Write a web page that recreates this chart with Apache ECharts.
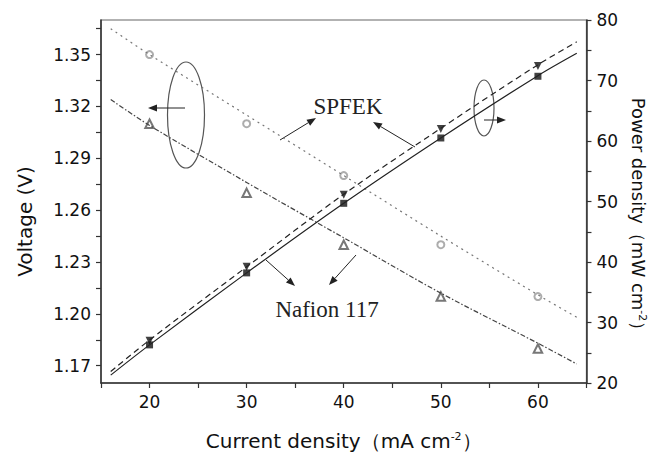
<!DOCTYPE html>
<html>
<head>
<meta charset="utf-8">
<script src="https://cdn.jsdelivr.net/npm/echarts@6/dist/echarts.min.js"></script>
<style>
  html, body { margin: 0; background: #fff; }
  #chart { width: 656px; height: 456px; }
</style>
</head>
<body>
<div id="chart"></div>
<script>
// current density (mA cm-2)
const current = [20, 30, 40, 50, 60]

// measured points
const spfekVoltage = [1.35, 1.31, 1.28, 1.24, 1.21]
const nafionVoltage = [1.31, 1.27, 1.24, 1.21, 1.18]
const spfekPower = [27.0, 39.2, 51.1, 62.0, 72.4]
const nafionPower = [26.3, 38.2, 49.7, 60.5, 70.7]

// fitted curves
const fitX = [16, 20, 30, 40, 50, 60, 64]
const spfekVoltageFit = [1.365, 1.350, 1.315, 1.280, 1.245, 1.211, 1.198]
const nafionVoltageFit = [1.324, 1.309, 1.276, 1.244, 1.212, 1.183, 1.171]
const spfekPowerFit = [21.9, 27.1, 39.2, 51.2, 62.1, 72.6, 76.4]
const nafionPowerFit = [21.3, 26.3, 38.2, 49.7, 60.5, 70.8, 74.5]

// left axis ticks
const voltageTicks = [1.17, 1.185, 1.20, 1.215, 1.23, 1.245, 1.26, 1.275, 1.29, 1.305, 1.32, 1.335, 1.35, 1.365]
const voltageLabels = [1.17, 1.20, 1.23, 1.26, 1.29, 1.32, 1.35]

const pairs = (xs, ys) => xs.map((x, i) => [x, ys[i]])

const sans = '"DejaVu Sans", sans-serif'
const serif = '"Liberation Serif", "Times New Roman", serif'
const ink = '#222'

function arrow(x1, y1, x2, y2) {
  const a = Math.atan2(y2 - y1, x2 - x1)
  const len = 9, w = 3.5
  const bx = x2 - len * Math.cos(a), by = y2 - len * Math.sin(a)
  return [
    { type: 'line', shape: { x1, y1, x2: bx, y2: by }, style: { stroke: ink, lineWidth: 1 } },
    {
      type: 'polygon',
      shape: { points: [[x2, y2], [bx + w * Math.sin(a), by - w * Math.cos(a)], [bx - w * Math.sin(a), by + w * Math.cos(a)]] },
      style: { fill: ink }
    }
  ]
}

function ellipse(cx, cy, rx, ry) {
  return { type: 'ellipse', shape: { cx, cy, rx, ry }, style: { fill: 'none', stroke: '#555', lineWidth: 1.2 } }
}

const chart = echarts.init(document.getElementById('chart'), null, { renderer: 'svg' })

const axisLine = { show: true, lineStyle: { color: '#333', width: 1.5 } }
const axisTick = { show: true, inside: false, length: 5, lineStyle: { color: '#333', width: 1.2 } }
const tickFont = { color: '#111', fontSize: 17, fontFamily: sans }
const sup = { fontSize: 11, fontFamily: sans, color: '#111', padding: [0, 0, 9, 0] }

const option = {
  animation: false,
  backgroundColor: '#fff',
  grid: { left: 101, right: 69, top: 20, bottom: 73, show: true, borderColor: '#666', borderWidth: 1.2 },
  xAxis: {
    type: 'value',
    min: 15, max: 65, interval: 5,
    splitLine: { show: false },
    axisLine, axisTick,
    axisLabel: Object.assign({ margin: 10, formatter: v => (v % 10 === 0 ? v : '') }, tickFont),
    name: 'Current density（mA cm{sup|-2}）',
    nameLocation: 'middle',
    nameGap: 48,
    nameTextStyle: { fontSize: 20, fontFamily: sans, color: '#111', rich: { sup } }
  },
  yAxis: [
    {
      type: 'value',
      min: 1.16, max: 1.37,
      splitLine: { show: false },
      axisLine,
      axisTick: Object.assign({ customValues: voltageTicks }, axisTick),
      axisLabel: Object.assign({ margin: 10, customValues: voltageLabels, formatter: v => v.toFixed(2) }, tickFont),
      name: 'Voltage (V)',
      nameLocation: 'middle',
      nameGap: 66,
      nameRotate: 90,
      nameTextStyle: { fontSize: 20, fontFamily: sans, color: '#111', padding: [0, 40, 0, 0] }
    },
    {
      type: 'value',
      position: 'right',
      min: 20, max: 80, interval: 5,
      splitLine: { show: false },
      axisLine, axisTick,
      axisLabel: Object.assign({ margin: 10, formatter: v => (v % 10 === 0 ? v : '') }, tickFont),
      name: 'Power density（mW cm{sup|-2}）',
      nameLocation: 'middle',
      nameGap: 38,
      nameRotate: -90,
      nameTextStyle: { fontSize: 18, fontFamily: sans, color: '#111', padding: [0, 0, 0, 34], rich: { sup } }
    }
  ],
  series: [
    {
      name: 'SPFEK voltage fit', type: 'line', yAxisIndex: 0, smooth: 0.3, showSymbol: false,
      data: pairs(fitX, spfekVoltageFit),
      lineStyle: { color: '#777', width: 1.2, type: [2, 4] }
    },
    {
      name: 'Nafion 117 voltage fit', type: 'line', yAxisIndex: 0, smooth: 0.3, showSymbol: false,
      data: pairs(fitX, nafionVoltageFit),
      lineStyle: { color: '#444', width: 1.2, type: [5, 2, 1.5, 2] }
    },
    {
      name: 'SPFEK power fit', type: 'line', yAxisIndex: 1, smooth: 0.3, showSymbol: false,
      data: pairs(fitX, spfekPowerFit),
      lineStyle: { color: ink, width: 1.2, type: [6, 4] }
    },
    {
      name: 'Nafion 117 power fit', type: 'line', yAxisIndex: 1, smooth: 0.3, showSymbol: false,
      data: pairs(fitX, nafionPowerFit),
      lineStyle: { color: ink, width: 1.2 }
    },
    {
      name: 'SPFEK voltage', type: 'scatter', yAxisIndex: 0,
      symbol: 'emptyCircle', symbolSize: 7,
      itemStyle: { color: '#999', borderColor: '#999', borderWidth: 1.2 },
      data: pairs(current, spfekVoltage)
    },
    {
      name: 'Nafion 117 voltage', type: 'scatter', yAxisIndex: 0,
      symbol: 'emptyTriangle', symbolSize: 8.5,
      itemStyle: { color: '#555', borderColor: '#555', borderWidth: 1.1 },
      data: pairs(current, nafionVoltage)
    },
    {
      name: 'SPFEK power', type: 'scatter', yAxisIndex: 1,
      symbol: 'triangle', symbolRotate: 180, symbolSize: 8,
      itemStyle: { color: '#111' },
      data: pairs(current, spfekPower)
    },
    {
      name: 'Nafion 117 power', type: 'scatter', yAxisIndex: 1,
      symbol: 'rect', symbolSize: 7,
      itemStyle: { color: '#111' },
      data: pairs(current, nafionPower)
    }
  ],
  graphic: [
    ellipse(186, 115, 18.5, 53),
    ...arrow(185, 108, 148, 108),
    ellipse(484, 108, 10, 28),
    ...arrow(484, 120, 506, 120),
    { type: 'text', x: 348, y: 106, style: { text: 'SPFEK', fontSize: 23, fontFamily: serif, fill: ink, align: 'center', verticalAlign: 'middle' } },
    ...arrow(280, 140, 316, 118),
    ...arrow(415, 147, 373, 122),
    { type: 'text', x: 327, y: 309, style: { text: 'Nafion 117', fontSize: 23, fontFamily: serif, fill: ink, align: 'center', verticalAlign: 'middle' } },
    ...arrow(266, 260, 295, 286),
    ...arrow(356, 255, 329, 285)
  ]
}

chart.setOption(option)
</script>
</body>
</html>
